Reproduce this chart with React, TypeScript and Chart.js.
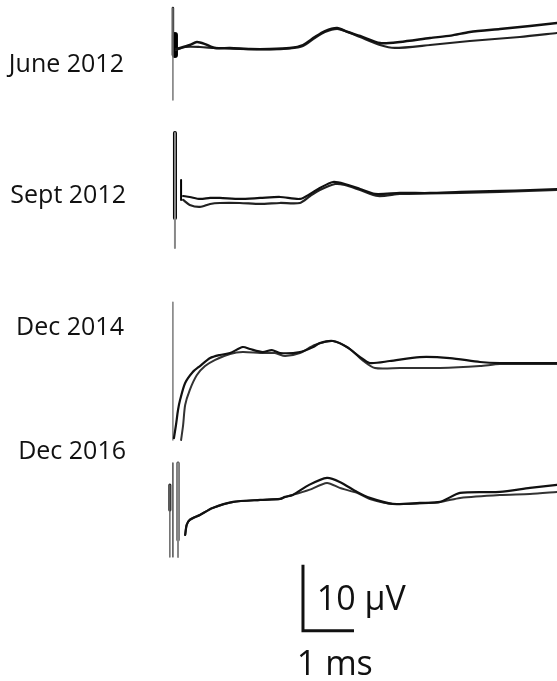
import React, { useEffect, useRef } from "react";
import { Chart, registerables } from "chart.js";

Chart.register(...registerables);

// Recording labels and baseline offsets (µV) of each row
const ROW_LABELS = ["June 2012", "Sept 2012", "Dec 2014", "Dec 2016"];
const ROW_BASELINES = [-7.5, -30, -53.5, -75];
// label anchors: [ms (right edge), µV (text baseline)]
const ROW_LABEL_POS: [number, number][] = [
  [-0.96, -10.91],
  [-0.92, -30.76],
  [-0.96, -50.76],
  [-0.92, -69.55],
];

// Traces: [time ms, amplitude µV relative to baseline]
const JUNE_A: [number, number][] = [
  [0.06, 0.08], [0.14, 0.23], [0.33, 0.68], [0.47, 1.14], [0.63, 0.83], [0.82, 0.23],
  [1.12, 0.23], [1.51, 0.08], [1.9, 0.08], [2.29, 0.23], [2.55, 0.68], [2.78, 1.89],
  [2.98, 2.8], [3.22, 3.26], [3.43, 2.65], [3.67, 2.05], [4.06, 0.98], [4.45, 1.14],
  [5.04, 1.74], [5.45, 2.1], [5.82, 2.65], [6.41, 3.11], [7.0, 3.56], [7.53, 4.02],
];
const JUNE_B: [number, number][] = [
  [0.06, -0.08], [0.24, 0.38], [0.53, 0.38], [0.82, 0.23], [1.31, 0.08], [1.9, 0],
  [2.29, 0.15], [2.55, 0.53], [2.78, 1.74], [2.98, 2.65], [3.22, 3.11], [3.43, 2.65],
  [3.67, 1.89], [4.06, 0.68], [4.35, 0.23], [5.04, 0.68], [5.82, 1.29], [6.8, 1.89],
  [7.53, 2.5],
];
const SEPT_A: [number, number][] = [
  [0.2, 0.3], [0.33, 0.15], [0.53, -0.15], [0.73, 0], [0.92, 0], [1.31, -0.15],
  [1.71, 0], [2.1, 0.15], [2.49, -0.15], [2.69, 0.61], [2.88, 1.52], [3.14, 2.42],
  [3.37, 2.12], [3.67, 1.36], [3.96, 0.61], [4.45, 0.76], [5.04, 0.76], [5.63, 0.91],
  [6.41, 1.06], [7.0, 1.21], [7.53, 1.36],
];
const SEPT_B: [number, number][] = [
  [0.2, -0.3], [0.33, -1.06], [0.53, -1.36], [0.73, -0.91], [0.92, -0.76], [1.31, -0.76],
  [1.71, -0.91], [2.1, -0.76], [2.49, -0.76], [2.69, 0.3], [2.88, 1.21], [3.18, 2.12],
  [3.37, 1.97], [3.67, 1.21], [4.02, 0.3], [4.45, 0.61], [5.04, 0.68], [5.63, 0.76],
  [6.41, 0.91], [7.53, 1.21],
];
const DEC14_A: [number, number][] = [
  [0.02, -12.88], [0.06, -10.91], [0.1, -8.64], [0.14, -7.12], [0.24, -4.55], [0.39, -2.88],
  [0.53, -1.97], [0.73, -0.76], [0.92, -0.3], [1.12, 0], [1.37, 0.91], [1.51, 0.61],
  [1.76, 0.15], [1.94, 0.45], [2.1, 0], [2.49, 0.15], [2.75, 0.91], [2.88, 1.52],
  [3.14, 1.82], [3.41, 0.91], [3.67, -0.61], [3.86, -1.52], [4.25, -1.21], [4.84, -0.61],
  [5.43, -0.76], [6.02, -1.36], [6.41, -1.52], [7.53, -1.52],
];
const DEC14_B: [number, number][] = [
  [0.16, -13.18], [0.2, -10.91], [0.24, -7.88], [0.33, -5.61], [0.47, -3.33], [0.63, -1.97],
  [0.82, -1.06], [1.12, -0.15], [1.37, 0.15], [1.71, 0], [2.0, 0], [2.2, -0.45],
  [2.49, 0], [2.78, 1.21], [3.14, 1.82], [3.47, 0.61], [3.71, -1.06], [3.96, -2.27],
  [4.45, -2.27], [5.24, -2.27], [6.02, -1.97], [6.41, -1.67], [7.53, -1.67],
];
const DEC16_A: [number, number][] = [
  [0.24, -6.06], [0.27, -4.55], [0.33, -3.79], [0.53, -3.03], [0.78, -1.97], [1.18, -1.06],
  [1.71, -0.76], [2.1, -0.61], [2.2, -0.3], [2.35, 0], [2.67, 1.52], [3.02, 2.58],
  [3.27, 1.97], [3.61, 0.45], [3.86, -0.45], [4.31, -1.36], [4.84, -1.21], [5.24, -1.06],
  [5.63, 0.3], [6.41, 0.45], [7.0, 1.06], [7.53, 1.52],
];
const DEC16_B: [number, number][] = [
  [0.24, -6.06], [0.27, -4.55], [0.33, -3.79], [0.53, -3.03], [0.78, -1.97], [1.18, -1.06],
  [1.71, -0.76], [2.1, -0.61], [2.2, -0.3], [2.35, 0], [2.67, 0.76], [3.02, 1.82],
  [3.27, 1.06], [3.61, 0.3], [3.86, -0.61], [4.31, -1.36], [5.24, -1.06], [5.63, -0.45],
  [6.41, 0], [7.0, 0.15], [7.53, 0.45],
];

// Stimulus artefacts: [row, time ms, top µV, bottom µV, width, colour]
const ARTEFACTS: [number, number, number, number, number, string][] = [
  [0, 0.0, 6.29, -7.65, 1.5, "#777"],
  [0, 0.0, 6.29, -0.83, 2.5, "#000"],
  [0, 0.04, 2.2, -0.83, 6, "#000"],
  [1, 0.04, 9.85, -7.58, 2, "#888"],
  [1, 0.04, 9.85, -3.03, 4, "#000"],
  [1, 0.16, 2.73, -0.3, 2, "#000"],
  [2, 0.0, 7.73, -13.18, 1.3, "#666"],
  [3, -0.06, 1.52, -9.39, 1.5, "#666"],
  [3, -0.06, 1.52, -2.27, 3, "#000"],
  [3, 0.0, 4.85, -9.39, 1.3, "#333"],
  [3, 0.1, 4.85, -9.39, 2, "#888"],
  [3, 0.1, 4.85, -6.82, 3, "#000"],
];

// Scale bar: corner (ms, µV absolute), lengths
const SCALE_CORNER: [number, number] = [2.55, -95.6];
const SCALE_MS = 1;
const SCALE_UV = 10;
const SCALE_LABELS: [string, number, number][] = [
  ["10 µV", 2.82, -92.42],
  ["1 ms", 2.43, -102.27],
];

const X_MIN = -3.39;
const X_MAX = 7.53;
const Y_MAX = 0;
const Y_MIN = -103.2;

const TRACES: [number, [number, number][], number, string][] = [
  [0, JUNE_A, 2.4, "#111"],
  [0, JUNE_B, 2.2, "#222"],
  [1, SEPT_A, 2.2, "#111"],
  [1, SEPT_B, 2.2, "#222"],
  [2, DEC14_A, 2.2, "#111"],
  [2, DEC14_B, 2.0, "#333"],
  [3, DEC16_A, 2.2, "#111"],
  [3, DEC16_B, 2.0, "#333"],
];

const textPlugin = {
  id: "textLabels",
  afterDatasetsDraw(chart: any) {
    const { ctx, scales } = chart;
    ctx.save();
    ctx.fillStyle = "#111";
    ctx.textBaseline = "alphabetic";
    ctx.font = '25px "Open Sans"';
    ctx.textAlign = "right";
    ROW_LABELS.forEach((label, i) => {
      const [x, y] = ROW_LABEL_POS[i];
      ctx.fillText(label, scales.x.getPixelForValue(x), scales.y.getPixelForValue(y));
    });
    ctx.font = '34px "Open Sans"';
    ctx.textAlign = "left";
    SCALE_LABELS.forEach(([label, x, y]) => {
      ctx.fillText(label, scales.x.getPixelForValue(x), scales.y.getPixelForValue(y));
    });
    ctx.restore();
  },
};

export default function App() {
  const ref = useRef<HTMLCanvasElement>(null);
  useEffect(() => {
    if (!ref.current) return;
    const datasets: any[] = [];
    TRACES.forEach(([row, pts, w, c]) => {
      datasets.push({
        data: pts.map(([t, v]) => ({ x: t, y: v + ROW_BASELINES[row] })),
        borderColor: c,
        borderWidth: w,
        pointRadius: 0,
        tension: 0.25,
        fill: false,
      });
    });
    ARTEFACTS.forEach(([row, t, top, bot, w, c]) => {
      datasets.push({
        data: [
          { x: t, y: top + ROW_BASELINES[row] },
          { x: t, y: bot + ROW_BASELINES[row] },
        ],
        borderColor: c,
        borderWidth: w,
        pointRadius: 0,
        tension: 0,
        fill: false,
      });
    });
    const [cx, cy] = SCALE_CORNER;
    datasets.push({
      data: [
        { x: cx, y: cy + SCALE_UV },
        { x: cx, y: cy },
        { x: cx + SCALE_MS, y: cy },
      ],
      borderColor: "#111",
      borderWidth: 3,
      pointRadius: 0,
      tension: 0,
      fill: false,
      borderCapStyle: "butt",
      borderJoinStyle: "miter",
    });
    const chart = new Chart(ref.current, {
      type: "line",
      data: { datasets },
      options: {
        animation: false,
        responsive: false,
        devicePixelRatio: 1,
        layout: { padding: 0 },
        plugins: { legend: { display: false }, tooltip: { enabled: false } },
        scales: {
          x: { type: "linear", min: X_MIN, max: X_MAX, display: false },
          y: { type: "linear", min: Y_MIN, max: Y_MAX, display: false },
        },
        elements: { line: { borderCapStyle: "round", borderJoinStyle: "round" } },
      },
      plugins: [textPlugin],
    });
    return () => chart.destroy();
  }, []);
  return (
    <div style={{ position: "absolute", left: 0, top: 0, width: 557, height: 681, background: "#fff" }}>
      <canvas ref={ref} width={557} height={681} style={{ display: "block" }} />
    </div>
  );
}
